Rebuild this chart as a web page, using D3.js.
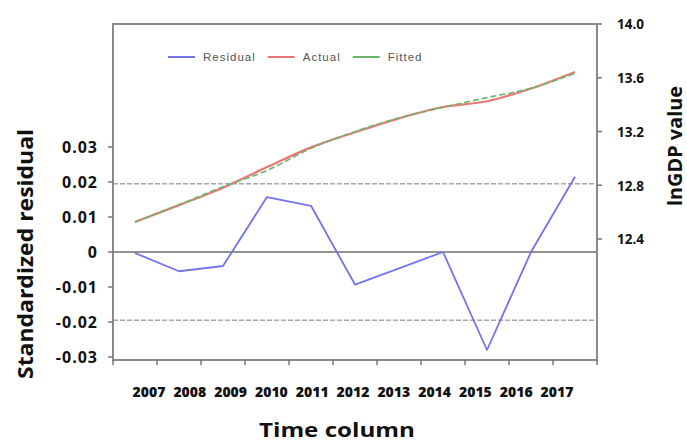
<!DOCTYPE html>
<html>
<head>
<meta charset="utf-8">
<script src="https://cdn.jsdelivr.net/npm/d3@7"></script>
<style>
  html, body { margin: 0; padding: 0; background: #fff; }
  svg { display: block; }
</style>
</head>
<body>
<script>
// ---- data ----
const years = ["2007","2008","2009","2010","2011","2012","2013","2014","2015","2016","2017"];
const residual = [-0.0003, -0.0055, -0.004, 0.0157, 0.0132, -0.0093, -0.0047, 0.0, -0.028, 0.0, 0.0215];
const actual = [12.527, 12.652, 12.782, 12.935, 13.082, 13.195, 13.298, 13.382, 13.425, 13.52, 13.643];
const fitted = [12.527, 12.655, 12.789, 12.91, 13.075, 13.199, 13.301, 13.38, 13.452, 13.522, 13.633];
const leftTicks = [-0.03, -0.02, -0.01, 0, 0.01, 0.02, 0.03];
const leftTickLabels = ["-0.03", "-0.02", "-0.01", "0", "0.01", "0.02", "0.03"];
const rightTicks = [12.4, 12.8, 13.2, 13.6, 14.0];
const rightTickLabels = ["12.4", "12.8", "13.2", "13.6", "14.0"];
const bandLimit = 0.0195;
const seriesNames = ["Residual", "Actual", "Fitted"];
const seriesColors = ["#7373ee", "#ec7676", "#66b866"];

// ---- layout ----
const W = 687, H = 443;
const frame = { left: 113, right: 597, top: 24, bottom: 360 };

const svg = d3.select("body").append("svg").attr("width", W).attr("height", H);

const x = d3.scaleBand().domain(years).range([frame.left, frame.right]).padding(0);
const xLabel = d3.scalePoint().domain(years).range([149, 557]);
const yL = d3.scaleLinear().domain([-0.03, 0.03]).range([357, 147]);
const yR = d3.scaleLinear().domain([12.4, 14.0]).range([239, 24]);
const cx = d => x(d) + x.bandwidth() / 2;

// dashed limit lines
svg.selectAll("line.limit").data([bandLimit, -bandLimit]).enter().append("line")
  .attr("x1", frame.left).attr("x2", frame.right)
  .attr("y1", d => yL(d)).attr("y2", d => yL(d))
  .attr("stroke", "#a8a8a8").attr("stroke-width", 1.5).attr("stroke-dasharray", "5,2");

// zero line
svg.append("line")
  .attr("x1", frame.left).attr("x2", frame.right)
  .attr("y1", yL(0)).attr("y2", yL(0))
  .attr("stroke", "#6e6e6e").attr("stroke-width", 1.6);

// frame
svg.append("rect")
  .attr("x", frame.left).attr("y", frame.top)
  .attr("width", frame.right - frame.left).attr("height", frame.bottom - frame.top)
  .attr("fill", "none").attr("stroke", "#8a8a8a").attr("stroke-width", 2);

// x ticks
const xTickPos = years.map(d => x(d)).concat([frame.right]);
svg.selectAll("line.xt").data(xTickPos).enter().append("line")
  .attr("x1", d => d).attr("x2", d => d)
  .attr("y1", frame.bottom).attr("y2", frame.bottom + 5)
  .attr("stroke", "#777").attr("stroke-width", 1.5);

// x labels
svg.selectAll("text.xl").data(years).enter().append("text")
  .attr("x", d => xLabel(d)).attr("y", 397)
  .attr("text-anchor", "middle")
  .attr("font-family", "'Open Sans', sans-serif").attr("font-weight", 800)
  .attr("font-size", 14).attr("fill", "#111")
  .text(d => d);

// left ticks
svg.selectAll("line.lt").data(leftTicks).enter().append("line")
  .attr("x1", frame.left - 5).attr("x2", frame.left)
  .attr("y1", d => yL(d)).attr("y2", d => yL(d))
  .attr("stroke", "#777").attr("stroke-width", 1.5);
svg.selectAll("text.ll").data(leftTicks).enter().append("text")
  .attr("x", 98).attr("y", d => yL(d)).attr("dy", "0.36em")
  .attr("text-anchor", "end")
  .attr("font-family", "'Open Sans', sans-serif").attr("font-weight", 700)
  .attr("font-size", 16).attr("letter-spacing", 1).attr("fill", "#111")
  .text((d, i) => leftTickLabels[i]);

// right ticks
svg.selectAll("line.rt").data(rightTicks).enter().append("line")
  .attr("x1", frame.right).attr("x2", frame.right + 5)
  .attr("y1", d => yR(d)).attr("y2", d => yR(d))
  .attr("stroke", "#777").attr("stroke-width", 1.5);
svg.selectAll("text.rl").data(rightTicks).enter().append("text")
  .attr("x", 617).attr("y", d => yR(d)).attr("dy", "0.4em")
  .attr("text-anchor", "start")
  .attr("font-family", "'Open Sans', sans-serif").attr("font-weight", 700)
  .attr("font-size", 13.5).attr("fill", "#111")
  .text((d, i) => rightTickLabels[i]);

// lines
const lineL = d3.line().x((d, i) => cx(years[i])).y(d => yL(d));
const lineR = d3.line().x((d, i) => cx(years[i])).y(d => yR(d)).curve(d3.curveMonotoneX);

svg.append("path").datum(residual).attr("d", lineL)
  .attr("fill", "none").attr("stroke", seriesColors[0]).attr("stroke-width", 1.8)
  .attr("stroke-linejoin", "round");
svg.append("path").datum(actual).attr("d", lineR)
  .attr("fill", "none").attr("stroke", seriesColors[1]).attr("stroke-width", 2.2);
svg.append("path").datum(fitted).attr("d", lineR)
  .attr("fill", "none").attr("stroke", seriesColors[2]).attr("stroke-width", 1.6)
  .attr("stroke-dasharray", "6,3");

// legend
let lx = 168;
const ly = 57;
seriesNames.forEach((name, i) => {
  svg.append("line").attr("x1", lx).attr("x2", lx + 27).attr("y1", ly).attr("y2", ly)
    .attr("stroke", seriesColors[i]).attr("stroke-width", 2);
  const t = svg.append("text").attr("x", lx + 35).attr("y", ly + 4)
    .attr("font-family", "'Liberation Sans', Arial, sans-serif")
    .attr("font-size", 11.5).attr("letter-spacing", 1).attr("fill", "#555")
    .text(name);
  lx = lx + 35 + t.node().getComputedTextLength() + 12;
});

// axis titles
svg.append("text")
  .attr("transform", "translate(33,254) rotate(-90)")
  .attr("text-anchor", "middle")
  .attr("font-family", "'Open Sans', sans-serif").attr("font-weight", 700)
  .attr("font-size", 22).attr("fill", "#111")
  .attr("textLength", 250).attr("lengthAdjust", "spacingAndGlyphs")
  .text("Standardized residual");

svg.append("text")
  .attr("transform", "translate(682,146) rotate(-90)")
  .attr("text-anchor", "middle")
  .attr("font-family", "'Open Sans', sans-serif").attr("font-weight", 700)
  .attr("font-size", 20).attr("fill", "#111")
  .attr("textLength", 120).attr("lengthAdjust", "spacingAndGlyphs")
  .text("lnGDP value");

svg.append("text")
  .attr("x", 337).attr("y", 437)
  .attr("text-anchor", "middle")
  .attr("font-family", "'Open Sans', sans-serif").attr("font-weight", 700)
  .attr("font-size", 20).attr("fill", "#111")
  .attr("textLength", 156).attr("lengthAdjust", "spacingAndGlyphs")
  .text("Time  column");
</script>
</body>
</html>
